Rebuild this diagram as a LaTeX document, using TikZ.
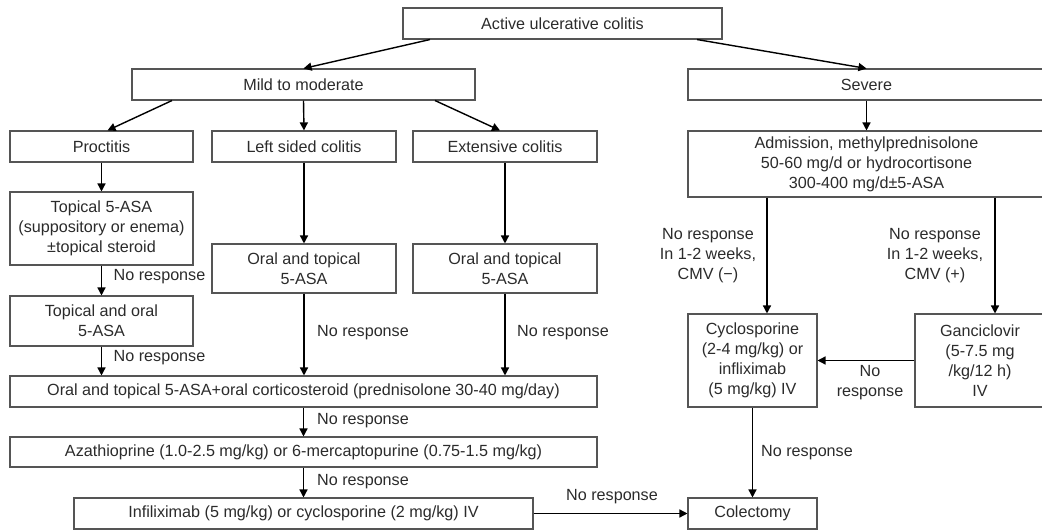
\documentclass[tikz,border=0pt]{standalone}
\usepackage{fontspec}
\setmainfont{Liberation Sans}
\usetikzlibrary{arrows.meta}
\definecolor{ink}{HTML}{2B2B2B}
\definecolor{frame}{HTML}{555555}
\tikzset{
  box/.style 2 args={draw=frame, line width=0.6pt, minimum width=#1*0.02cm,
    minimum height=#2*0.02cm, inner sep=0pt, align=center, text=ink,
    font=\fontsize{9.2}{11.4}\selectfont},
  lab/.style={text=ink, inner sep=0pt, align=center, font=\fontsize{9.2}{11.4}\selectfont},
  arr/.style={draw=black, line width=0.8pt, -{Triangle[length=4.6pt,width=4.6pt]}},
}

\begin{document}
\begin{tikzpicture}[x=0.02cm,y=-0.02cm]
  \useasboundingbox (0,0) rectangle (1042,530);

  % levels
  \node[box={319}{31}] (active) at (562.5,23.5) {Active ulcerative colitis};
  \node[box={343}{31}] (mild) at (303.5,84.5) {Mild to moderate};
  \node[box={357}{31}] (severe) at (866.5,84.5) {Severe};

  \node[box={183}{31}] (proct) at (101.5,146.5) {Proctitis};
  \node[box={184}{31}] (left) at (304,146.5) {Left sided colitis};
  \node[box={184}{31}] (ext) at (505,146.5) {Extensive colitis};
  \node[box={357}{66}] (admit) at (866.5,164)
    {Admission, methylprednisolone\\50-60 mg/d or hydrocortisone\\300-400 mg/d±5-ASA};

  \node[box={183}{73}] (topical) at (101.5,228.5)
    {Topical 5-ASA\\(suppository or enema)\\±topical steroid};
  \node[box={183}{50}] (toporal) at (101.5,321) {Topical and oral\\5-ASA};
  \node[box={184}{49}] (oraltopl) at (304,268.5) {Oral and topical\\5-ASA};
  \node[box={184}{49}] (oraltope) at (505,268.5) {Oral and topical\\5-ASA};

  \node[box={129}{93}] (cyclo) at (752.5,360.5)
    {Cyclosporine\\(2-4 mg/kg) or\\infliximab\\(5 mg/kg) IV};
  \node[box={130}{93}] (ganci) at (980,360.5)
    {Ganciclovir\\(5-7.5 mg\\/kg/12 h)\\IV};

  \node[box={587}{31}] (steroid) at (303.5,391.5)
    {Oral and topical 5-ASA+oral corticosteroid (prednisolone 30-40 mg/day)};
  \node[box={587}{30}] (aza) at (303.5,452)
    {Azathioprine (1.0-2.5 mg/kg) or 6-mercaptopurine (0.75-1.5 mg/kg)};
  \node[box={459}{31}] (infli) at (303.5,513.5)
    {Infiliximab (5 mg/kg) or cyclosporine (2 mg/kg) IV};
  \node[box={129}{31}] (colect) at (752.5,513.5) {Colectomy};

  % arrows
  \draw[arr] ([shift={(-132.5,0)}]active.south) -- (mild.north);
  \draw[arr] ([shift={(134.5,0)}]active.south) -- (severe.north);
  \draw[arr] ([shift={(-131.5,0)}]mild.south) -- ([shift={(6,0)}]proct.north);
  \draw[arr] (mild.south) -- (left.north);
  \draw[arr] ([shift={(131.5,0)}]mild.south) -- ([shift={(-5,0)}]ext.north);
  \draw[arr] (severe.south) -- (admit.north);

  \draw[arr] (proct) -- (topical);
  \draw[arr] (topical) -- (toporal);
  \draw[arr] (toporal.south) -- (toporal.south |- steroid.north);
  \draw[arr] (left) -- (oraltopl);
  \draw[arr] (oraltopl.south) -- (oraltopl.south |- steroid.north);
  \draw[arr] (ext) -- (oraltope);
  \draw[arr] (oraltope.south) -- (oraltope.south |- steroid.north);
  \draw[arr] (steroid) -- (aza);
  \draw[arr] (aza.south) -- (aza.south |- infli.north);
  \draw[arr] (infli) -- (colect);

  \coordinate (cin) at ([shift={(14.5,0)}]cyclo.north);
  \coordinate (gin) at ([shift={(15,0)}]ganci.north);
  \draw[arr] (cin |- admit.south) -- (cin);
  \draw[arr] (gin |- admit.south) -- (gin);
  \draw[arr] (ganci) -- (cyclo);
  \draw[arr] (cyclo) -- (colect);

  % labels
  \node[lab] (nr1) at (159.5,277) {No response};
  \node[lab] (nr2) at (159.5,358) {No response};
  \node[lab] (nr3) at (363,333) {No response};
  \node[lab] (nr4) at (563,333) {No response};
  \node[lab] (nr5) at (363,421) {No response};
  \node[lab] (nr6) at (363,482) {No response};
  \node[lab] (nr7) at (708,256) {No response\\In 1-2 weeks,\\CMV (−)};
  \node[lab] (nr8) at (935,256) {No response\\In 1-2 weeks,\\CMV (+)};
  \node[lab] (nr9) at (870,383) {No\\response};
  \node[lab] (nr10) at (807,453) {No response};
  \node[lab] (nr11) at (612,497) {No response};
\end{tikzpicture}
\end{document}
